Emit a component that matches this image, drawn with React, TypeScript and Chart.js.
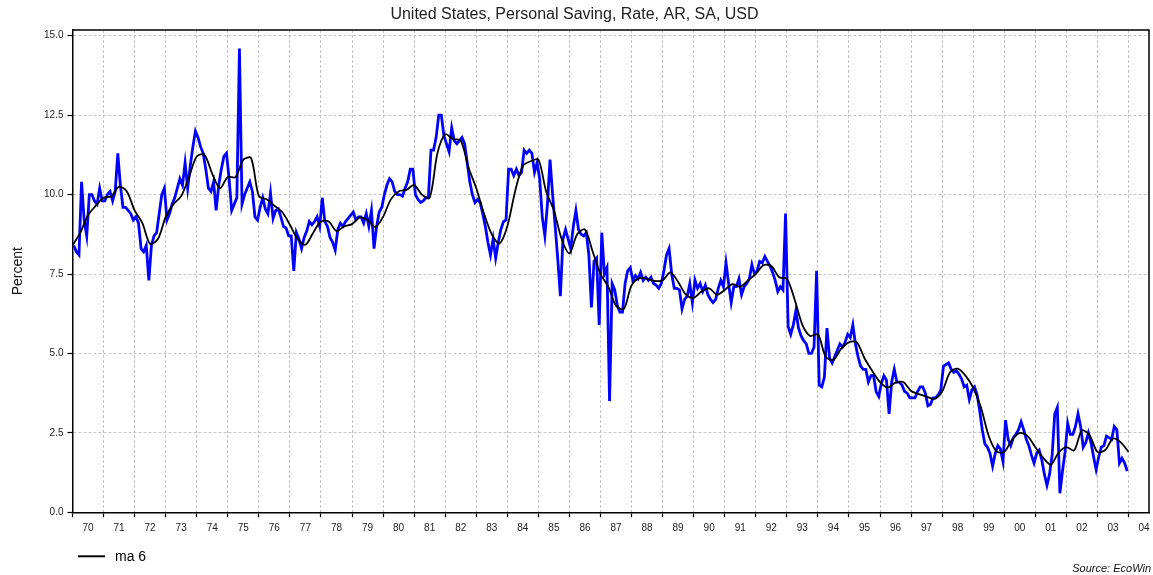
import React, { useEffect, useRef } from "react";
import { Chart, registerables } from "chart.js";

Chart.register(...registerables);

const FONT = '"Liberation Sans", Arial, Helvetica, sans-serif';
const TITLE = "United States, Personal Saving, Rate, AR, SA, USD";
const START_YEAR = 1970;

// Monthly personal saving rate (%), Jan of first year to Dec of last year
const savingRate1970s = [
  8.4, 8.2, 8.1, 10.4, 9.2, 8.7, 10.0, 10.0, 9.8, 9.7, 10.2, 9.8,
  9.8, 10.0, 10.1, 9.8, 10.1, 11.3, 10.3, 9.6, 9.6, 9.5, 9.4, 9.2,
  9.3, 9.1, 8.3, 8.2, 8.4, 7.3, 8.4, 8.7, 8.8, 9.4, 10.0, 10.2,
  9.2, 9.4, 9.7, 9.9, 10.2, 10.5, 10.3, 11.0, 10.2, 10.9, 11.5, 12.0,
  11.8, 11.5, 11.3, 10.8, 10.2, 10.1, 10.4, 9.5, 10.3, 10.8, 11.2, 11.3,
  10.5, 9.5, 9.7, 9.9, 14.6, 9.7, 10.0, 10.2, 10.4, 10.1, 9.3, 9.2,
  9.6, 9.9, 9.55, 9.4, 10.05, 9.25, 9.5, 9.55, 9.3, 9.0, 8.95, 8.7,
  8.7, 7.6, 8.8, 8.6, 8.3, 8.65, 8.85, 9.15, 9.05, 9.15, 9.3, 9.0,
  9.9, 9.15, 9.0, 8.65, 8.5, 8.25, 8.9, 9.1, 9.0, 9.15, 9.25, 9.35,
  9.45, 9.2, 9.3, 9.3, 9.1, 9.4, 9.0, 9.5, 8.3, 9.0, 9.45, 9.6,
];
const savingRate1980s = [
  10.0, 10.3, 10.5, 10.4, 10.1, 10.0, 10.0, 9.95, 10.2, 10.4, 10.8, 10.8,
  10.0, 9.85, 9.75, 9.8, 9.9, 9.9, 11.4, 11.4, 11.8, 12.5, 12.5, 11.85,
  11.6, 11.35, 12.1, 11.7, 11.6, 11.7, 11.8, 11.6, 11.0, 10.4, 10.0, 9.75,
  9.85, 9.75, 9.4, 9.0, 8.5, 8.1, 8.6, 8.0, 8.5, 8.9, 9.15, 9.2,
  10.8, 10.8, 10.6, 10.8, 10.6, 10.7, 11.4, 11.3, 11.4, 11.3, 10.7, 11.0,
  10.5, 9.3, 8.7, 9.7, 11.1, 10.0, 9.0, 7.95, 6.8, 8.6, 8.9, 8.6,
  8.3, 9.0, 9.5, 8.9, 8.75, 8.7, 8.8, 8.1, 6.45, 7.9, 8.0, 5.9,
  8.8, 7.5, 7.7, 3.5, 7.2, 7.0, 6.5, 6.3, 6.3, 7.2, 7.6, 7.7,
  7.3, 7.45, 7.35, 7.55, 7.3, 7.4, 7.3, 7.4, 7.2, 7.15, 7.05, 7.2,
  7.6, 8.1, 8.3, 7.5, 7.05, 7.05, 7.0, 6.4, 6.7, 6.8, 7.2, 6.6,
];
const savingRate1990s = [
  7.3, 7.05, 7.2, 6.95, 7.15, 6.85, 6.7, 6.6, 6.7, 7.05, 7.3, 7.1,
  7.85, 7.2, 6.6, 7.1, 7.1, 7.35, 6.85, 7.1, 7.2, 7.35, 7.8, 7.5,
  7.6, 7.9, 7.85, 8.05, 7.9, 7.75, 7.55, 7.3, 6.95, 7.1, 7.0, 9.4,
  5.85, 5.6, 5.9, 6.35, 5.8, 5.55, 5.4, 5.3, 5.0, 5.0, 5.2, 7.6,
  4.0, 3.95, 4.25, 5.8, 4.85, 4.7, 4.9, 5.1, 5.3, 5.2, 5.35, 5.6,
  5.5, 5.9, 5.3, 4.9, 4.6, 4.5, 4.5, 4.1, 4.3, 4.3, 3.8, 3.65,
  4.05, 4.3, 4.15, 3.1, 4.1, 4.5, 4.1, 4.1, 4.0, 3.8, 3.75, 3.6,
  3.6, 3.6, 3.8, 3.95, 3.95, 3.75, 3.35, 3.4, 3.6, 3.6, 3.7, 3.85,
  4.6, 4.65, 4.7, 4.5, 4.4, 4.45, 4.35, 4.2, 3.95, 4.0, 3.55, 3.85,
  3.95, 3.7, 3.2, 2.6, 2.15, 2.05, 1.85, 1.45, 1.85, 2.1, 2.0, 1.6,
];
const savingRate2000s = [
  2.9, 2.3, 2.1, 2.35, 2.45, 2.6, 2.85, 2.6, 2.3, 2.1, 1.8, 1.55,
  1.85, 1.95, 1.65, 1.2, 0.85, 1.2, 1.8, 3.1, 3.3, 0.6, 1.3, 1.9,
  2.8, 2.45, 2.45, 2.7, 3.1, 2.7, 2.05, 2.2, 2.5, 2.2, 1.75, 1.35,
  1.75, 2.05, 2.1, 2.4, 2.35, 2.3, 2.7, 2.6, 1.55, 1.7, 1.55, 1.3,
];

// "ma 6" line read at quarterly points from 1970.00 to 2004.00
const ma6Quarterly = [
  8.4, 8.8, 9.35, 9.65,
  9.9, 9.95, 10.25, 10.1,
  9.5, 9.1, 8.45, 8.6,
  9.3, 9.7, 9.95, 10.55,
  11.2, 11.25, 10.65, 10.2,
  10.55, 10.55, 11.1, 11.15,
  9.95, 9.85, 9.65, 9.45,
  9.05, 8.6, 8.42, 8.8,
  9.15, 9.15, 8.85, 9.0,
  9.07, 9.28, 9.2, 8.98,
  9.3, 9.85, 10.1, 10.15,
  10.3, 10.0, 9.9, 11.3,
  11.9, 11.75, 11.7, 10.85,
  10.2, 9.4, 8.75, 8.46,
  9.0, 10.1, 10.9, 11.05,
  11.1, 10.1, 9.5, 8.6,
  8.15, 8.75, 8.9, 8.2,
  7.5, 7.1, 6.5, 6.4,
  7.14, 7.37, 7.35, 7.28,
  7.3, 7.55, 7.25, 6.85,
  6.75, 6.95, 7.05, 6.85,
  7.0, 7.18, 7.1, 7.3,
  7.5, 7.78, 7.75, 7.4,
  7.35, 6.7, 5.9, 5.55,
  5.6, 4.9, 4.8, 5.15,
  5.35, 5.35, 4.85, 4.45,
  4.1, 3.93, 4.08, 4.1,
  3.82, 3.72, 3.64, 3.57,
  3.8, 4.4, 4.52, 4.3,
  3.92, 3.3, 2.4, 1.92,
  1.9, 2.28, 2.5, 2.4,
  2.05, 1.72, 1.5, 1.88,
  2.05, 1.95, 2.58, 2.42,
  1.9, 1.96, 2.32, 2.2,
  1.9,
];

const yearLabels = [
  "70", "71", "72", "73", "74", "75", "76", "77", "78", "79",
  "80", "81", "82", "83", "84", "85", "86", "87", "88", "89",
  "90", "91", "92", "93", "94", "95", "96", "97", "98", "99",
  "00", "01", "02", "03", "04",
];
const yTickValues = [0, 2.5, 5, 7.5, 10, 12.5, 15];

const X_MAX = 2004.66;
const Y_MAX = 15.18;

const framePlugin = {
  id: "frameAndNotes",
  afterDraw(chart: any) {
    const { ctx, chartArea: a } = chart;
    ctx.save();
    ctx.strokeStyle = "#000";
    ctx.lineWidth = 1.5;
    ctx.setLineDash([]);
    ctx.beginPath();
    ctx.moveTo(a.left, a.top);
    ctx.lineTo(a.right, a.top);
    ctx.lineTo(a.right, a.bottom);
    ctx.stroke();

    // legend (ma 6 only)
    const ly = a.bottom + 44;
    ctx.lineWidth = 2;
    ctx.beginPath();
    ctx.moveTo(a.left + 5.5, ly);
    ctx.lineTo(a.left + 32.5, ly);
    ctx.stroke();
    ctx.fillStyle = "#000";
    ctx.font = `14px ${FONT}`;
    ctx.textAlign = "left";
    ctx.textBaseline = "middle";
    ctx.fillText("ma 6", a.left + 42.5, ly + 1);

    // source note
    ctx.font = `italic 11px ${FONT}`;
    ctx.textAlign = "right";
    ctx.fillStyle = "#111";
    ctx.fillText("Source: EcoWin", 1151, 569);
    ctx.restore();
  },
};

export default function App() {
  const canvasRef = useRef<HTMLCanvasElement | null>(null);

  useEffect(() => {
    const canvas = canvasRef.current;
    if (!canvas) return;
    const monthly = [...savingRate1970s, ...savingRate1980s, ...savingRate1990s, ...savingRate2000s];
    const rawPoints = monthly.map((v, i) => ({ x: START_YEAR + (i + 0.5) / 12, y: v }));
    const maPoints = ma6Quarterly.map((v, i) => ({ x: START_YEAR + i / 4, y: v }));

    const gridCommon = {
      color: "#c6c6c6",
      lineWidth: 1,
      tickLength: 5,
      tickColor: "#000",
      tickWidth: 1.2,
    };

    const chart = new Chart(canvas, {
      type: "line",
      data: {
        datasets: [
          {
            label: "ma 6",
            data: maPoints,
            borderColor: "#000000",
            borderWidth: 1.8,
            pointRadius: 0,
            tension: 0.3,
            fill: false,
          },
          {
            label: TITLE,
            data: rawPoints,
            borderColor: "#0000ff",
            borderWidth: 2.8,
            pointRadius: 0,
            tension: 0,
            fill: false,
          },
        ],
      },
      options: {
        responsive: false,
        animation: false,
        devicePixelRatio: 1,
        layout: { padding: { left: 0, right: 4, top: 0, bottom: 0 } },
        plugins: {
          legend: { display: false },
          tooltip: { enabled: false },
          title: {
            display: true,
            text: TITLE,
            color: "#222",
            font: { family: FONT, size: 16, weight: "normal" },
            padding: { top: 4.5, bottom: 6.3 },
          },
        },
        scales: {
          x: {
            type: "linear",
            min: START_YEAR,
            max: X_MAX,
            afterFit: (s: any) => {
              s.height = 62.7;
            },
            afterBuildTicks: (s: any) => {
              s.ticks = yearLabels.map((_, i) => ({ value: START_YEAR + i }));
            },
            ticks: {
              autoSkip: false,
              maxRotation: 0,
              minRotation: 0,
              labelOffset: 15.5,
              padding: 5,
              color: "#222",
              font: { family: FONT, size: 10 },
              callback: (v: any) => yearLabels[Math.round(Number(v)) - START_YEAR] ?? "",
            },
            grid: gridCommon,
            border: { color: "#000", width: 1.5, dash: [3, 2] },
          },
          y: {
            type: "linear",
            min: 0,
            max: Y_MAX,
            afterFit: (s: any) => {
              s.width = 72.5;
            },
            afterBuildTicks: (s: any) => {
              s.ticks = yTickValues.map((v) => ({ value: v }));
            },
            ticks: {
              padding: 4,
              color: "#222",
              font: { family: FONT, size: 10 },
              callback: (v: any) => Number(v).toFixed(1),
            },
            title: {
              display: true,
              text: "Percent",
              color: "#111",
              font: { family: FONT, size: 14 },
              padding: { top: 10, bottom: 0 },
            },
            grid: gridCommon,
            border: { color: "#000", width: 1.5, dash: [3, 2] },
          },
        },
      },
      plugins: [framePlugin],
    } as any);

    return () => {
      chart.destroy();
    };
  }, []);

  return (
    <div style={{ position: "absolute", left: 0, top: 0, width: 1153, height: 575, background: "#fff" }}>
      <canvas ref={canvasRef} width={1153} height={575} style={{ display: "block" }} />
    </div>
  );
}
